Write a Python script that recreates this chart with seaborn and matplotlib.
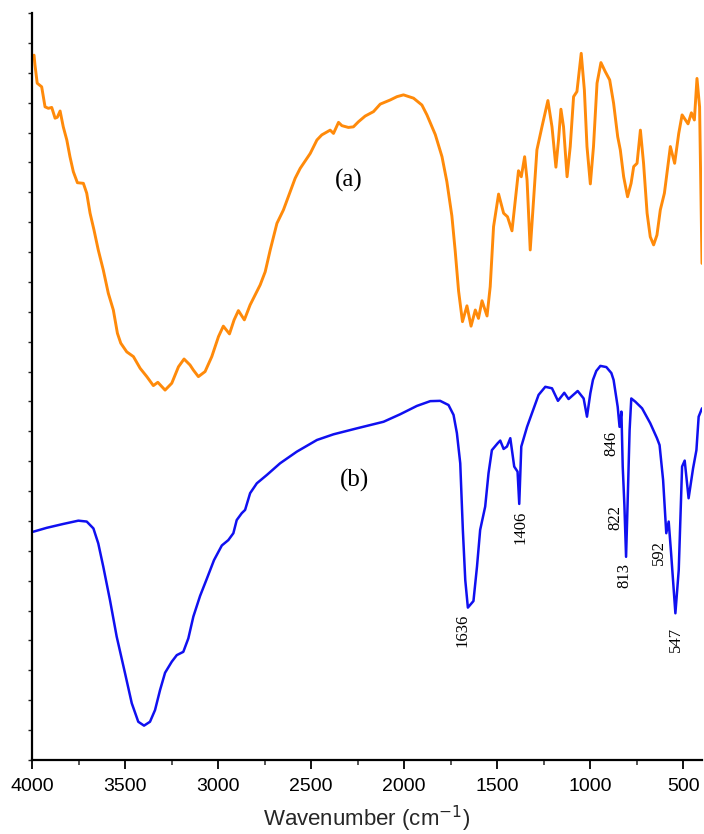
import numpy as np
import pandas as pd
import matplotlib
matplotlib.use("Agg")
import matplotlib.pyplot as plt
import seaborn as sns
from matplotlib.ticker import MultipleLocator, NullFormatter

# ---- data ----
wn_a = [3989, 3984, 3972, 3948, 3930, 3912, 3894, 3876, 3864, 3849, 3832, 3813, 3796, 3778,
        3756, 3724, 3706, 3688, 3667, 3644, 3617, 3590, 3563, 3541, 3523, 3491, 3455, 3419,
        3383, 3348, 3324, 3285, 3249, 3213, 3183, 3151, 3133, 3106, 3070, 3034, 2998, 2972,
        2939, 2914, 2891, 2859, 2828, 2774, 2747, 2720, 2684, 2649, 2586, 2559, 2505, 2469,
        2443, 2398, 2380, 2353, 2335, 2300, 2273, 2246, 2210, 2165, 2129, 2075, 2039, 2004,
        1950, 1905, 1878, 1833, 1797, 1771, 1744, 1726, 1708, 1687, 1663, 1641, 1618, 1601,
        1582, 1555, 1538, 1520, 1493, 1466, 1445, 1421, 1403, 1386, 1371, 1353, 1340, 1323,
        1305, 1287, 1260, 1228, 1206, 1185, 1171, 1158, 1144, 1125, 1108, 1090, 1072, 1049,
        1032, 1018, 1000, 983, 964, 943, 920, 896, 875, 853, 839, 821, 800, 781, 767, 749,
        731, 714, 695, 678, 660, 642, 624, 602, 588, 570, 547, 525, 507, 475, 457, 441, 427,
        413, 400]
t_a = [23.59, 23.26, 22.65, 22.53, 21.86, 21.81, 21.84, 21.48, 21.51, 21.72, 21.19, 20.75,
       20.19, 19.69, 19.32, 19.30, 18.97, 18.30, 17.74, 17.07, 16.40, 15.62, 15.06, 14.28,
       13.95, 13.66, 13.50, 13.11, 12.83, 12.53, 12.64, 12.38, 12.61, 13.16, 13.42, 13.22,
       13.05, 12.83, 13.00, 13.50, 14.17, 14.52, 14.26, 14.73, 15.04, 14.73, 15.23, 15.90,
       16.34, 17.07, 17.96, 18.41, 19.47, 19.80, 20.30, 20.75, 20.92, 21.08, 20.97, 21.34,
       21.23, 21.17, 21.19, 21.36, 21.55, 21.70, 21.95, 22.09, 22.20, 22.26, 22.15, 21.92,
       21.59, 20.93, 20.19, 19.36, 18.21, 17.03, 15.70, 14.67, 15.20, 14.52, 15.06, 14.78,
       15.37, 14.86, 15.84, 17.85, 18.94, 18.30, 18.18, 17.71, 18.74, 19.72, 19.52, 20.19,
       19.41, 17.07, 18.74, 20.42, 21.19, 22.07, 21.19, 19.84, 20.75, 21.78, 21.19, 19.52,
       20.53, 22.20, 22.37, 23.65, 22.42, 20.53, 19.28, 20.53, 22.65, 23.34, 23.04, 22.76,
       21.98, 20.86, 20.42, 19.52, 18.85, 19.30, 19.86, 19.97, 21.08, 19.97, 18.30, 17.51,
       17.24, 17.57, 18.41, 18.97, 19.64, 20.53, 19.97, 20.97, 21.59, 21.29, 21.66, 21.42,
       22.81, 21.86, 16.62]

wn_b = [3993, 3921, 3832, 3751, 3706, 3670, 3644, 3617, 3581, 3545, 3500, 3464, 3429, 3398,
        3366, 3339, 3312, 3285, 3249, 3222, 3187, 3160, 3133, 3097, 3061, 3022, 2980, 2945,
        2918, 2900, 2873, 2855, 2828, 2792, 2738, 2667, 2577, 2469, 2380, 2254, 2111, 2022,
        1932, 1860, 1807, 1762, 1735, 1717, 1699, 1685, 1672, 1658, 1628, 1609, 1592, 1565,
        1547, 1529, 1498, 1484, 1466, 1448, 1430, 1409, 1391, 1382, 1371, 1340, 1314, 1278,
        1242, 1206, 1174, 1140, 1117, 1068, 1036, 1018, 1000, 986, 968, 946, 914, 887, 875,
        853, 843, 833, 826, 817, 808, 800, 789, 780, 758, 722, 678, 642, 628, 609, 592, 579,
        566, 543, 525, 507, 493, 472, 448, 430, 418, 400]
t_b = [7.64, 7.77, 7.90, 8.01, 7.98, 7.75, 7.25, 6.47, 5.35, 4.13, 2.90, 1.90, 1.28, 1.15,
       1.28, 1.67, 2.34, 2.92, 3.29, 3.51, 3.62, 4.07, 4.80, 5.49, 6.06, 6.69, 7.18, 7.36,
       7.59, 8.03, 8.26, 8.37, 8.93, 9.26, 9.54, 9.93, 10.32, 10.71, 10.90, 11.10, 11.32,
       11.57, 11.85, 12.01, 12.02, 11.88, 11.55, 10.94, 9.93, 7.70, 6.02, 5.10, 5.32, 6.47,
       7.70, 8.48, 9.60, 10.37, 10.60, 10.69, 10.41, 10.49, 10.77, 9.82, 9.65, 8.57, 10.49,
       11.15, 11.60, 12.22, 12.49, 12.44, 12.02, 12.29, 12.08, 12.35, 12.10, 11.49, 12.27,
       12.72, 13.02, 13.19, 13.15, 12.95, 12.72, 11.82, 11.15, 11.66, 9.82, 8.53, 6.80, 8.53,
       11.04, 12.10, 11.99, 11.77, 11.27, 10.77, 10.54, 9.37, 7.59, 7.98, 6.92, 4.91, 6.36,
       9.82, 10.02, 8.76, 9.76, 10.37, 11.49, 11.77]

peak_labels = ["1636", "1406", "846", "822", "813", "592", "547"]
peak_x = [1688, 1376, 887, 866, 817, 629, 538]
peak_y = [4.35, 7.80, 10.61, 8.13, 6.19, 6.93, 4.02]

curve_labels = ["(a)", "(b)"]
curve_label_x = [2296, 2269]
curve_label_y = [19.41, 9.37]

x_major = [4000, 3500, 3000, 2500, 2000, 1500, 1000, 500]

# ---- plotting ----
sns.set_style("ticks")
plt.rcParams['font.family'] = ['Liberation Sans', 'DejaVu Sans']

fig = plt.figure(figsize=(7.04, 8.34), dpi=100)
ax = fig.add_axes([32 / 704, 74 / 834, 670 / 704, 747 / 834])

df_a = pd.DataFrame({"wn": wn_a, "t": t_a})
df_b = pd.DataFrame({"wn": wn_b, "t": t_b})
sns.lineplot(data=df_a, x="wn", y="t", ax=ax, color="#FF8A0A", linewidth=2.1,
             sort=False, estimator=None)
sns.lineplot(data=df_b, x="wn", y="t", ax=ax, color="#1010F0", linewidth=1.8,
             sort=False, estimator=None)

ax.set_xlim(4000, 400)
ax.set_ylim(0, 25)
ax.set_xticks(x_major)
ax.set_xticklabels([str(v) for v in x_major])
ax.xaxis.set_minor_locator(MultipleLocator(250))
ax.yaxis.set_major_locator(MultipleLocator(1))
ax.yaxis.set_major_formatter(NullFormatter())
ax.set_ylabel("")
ax.set_xlabel("Wavenumber (cm$^{-1}$)", fontsize=16)
ax.xaxis.set_label_coords(0.5, -0.058)

ax.tick_params(axis="x", which="major", length=6.5, width=1.3, labelsize=14, pad=6.5,
               direction="out", colors="black")
ax.tick_params(axis="x", which="minor", length=3.5, width=1.1, direction="out")
ax.tick_params(axis="y", which="major", length=3, width=1.0, direction="out")

for side in ["top", "right"]:
    ax.spines[side].set_visible(False)
for side in ["left", "bottom"]:
    ax.spines[side].set_linewidth(1.6)
    ax.spines[side].set_color("black")

for lab, xx, yy in zip(peak_labels, peak_x, peak_y):
    ax.text(xx, yy, lab, rotation=90, ha="center", va="center", fontsize=12,
            family=["Liberation Serif", "DejaVu Serif"], color="black")

for lab, xx, yy in zip(curve_labels, curve_label_x, curve_label_y):
    ax.text(xx, yy, lab, ha="center", va="center", fontsize=18,
            family=["Liberation Serif", "DejaVu Serif"], color="black")

fig.savefig("out.png", dpi=100)
